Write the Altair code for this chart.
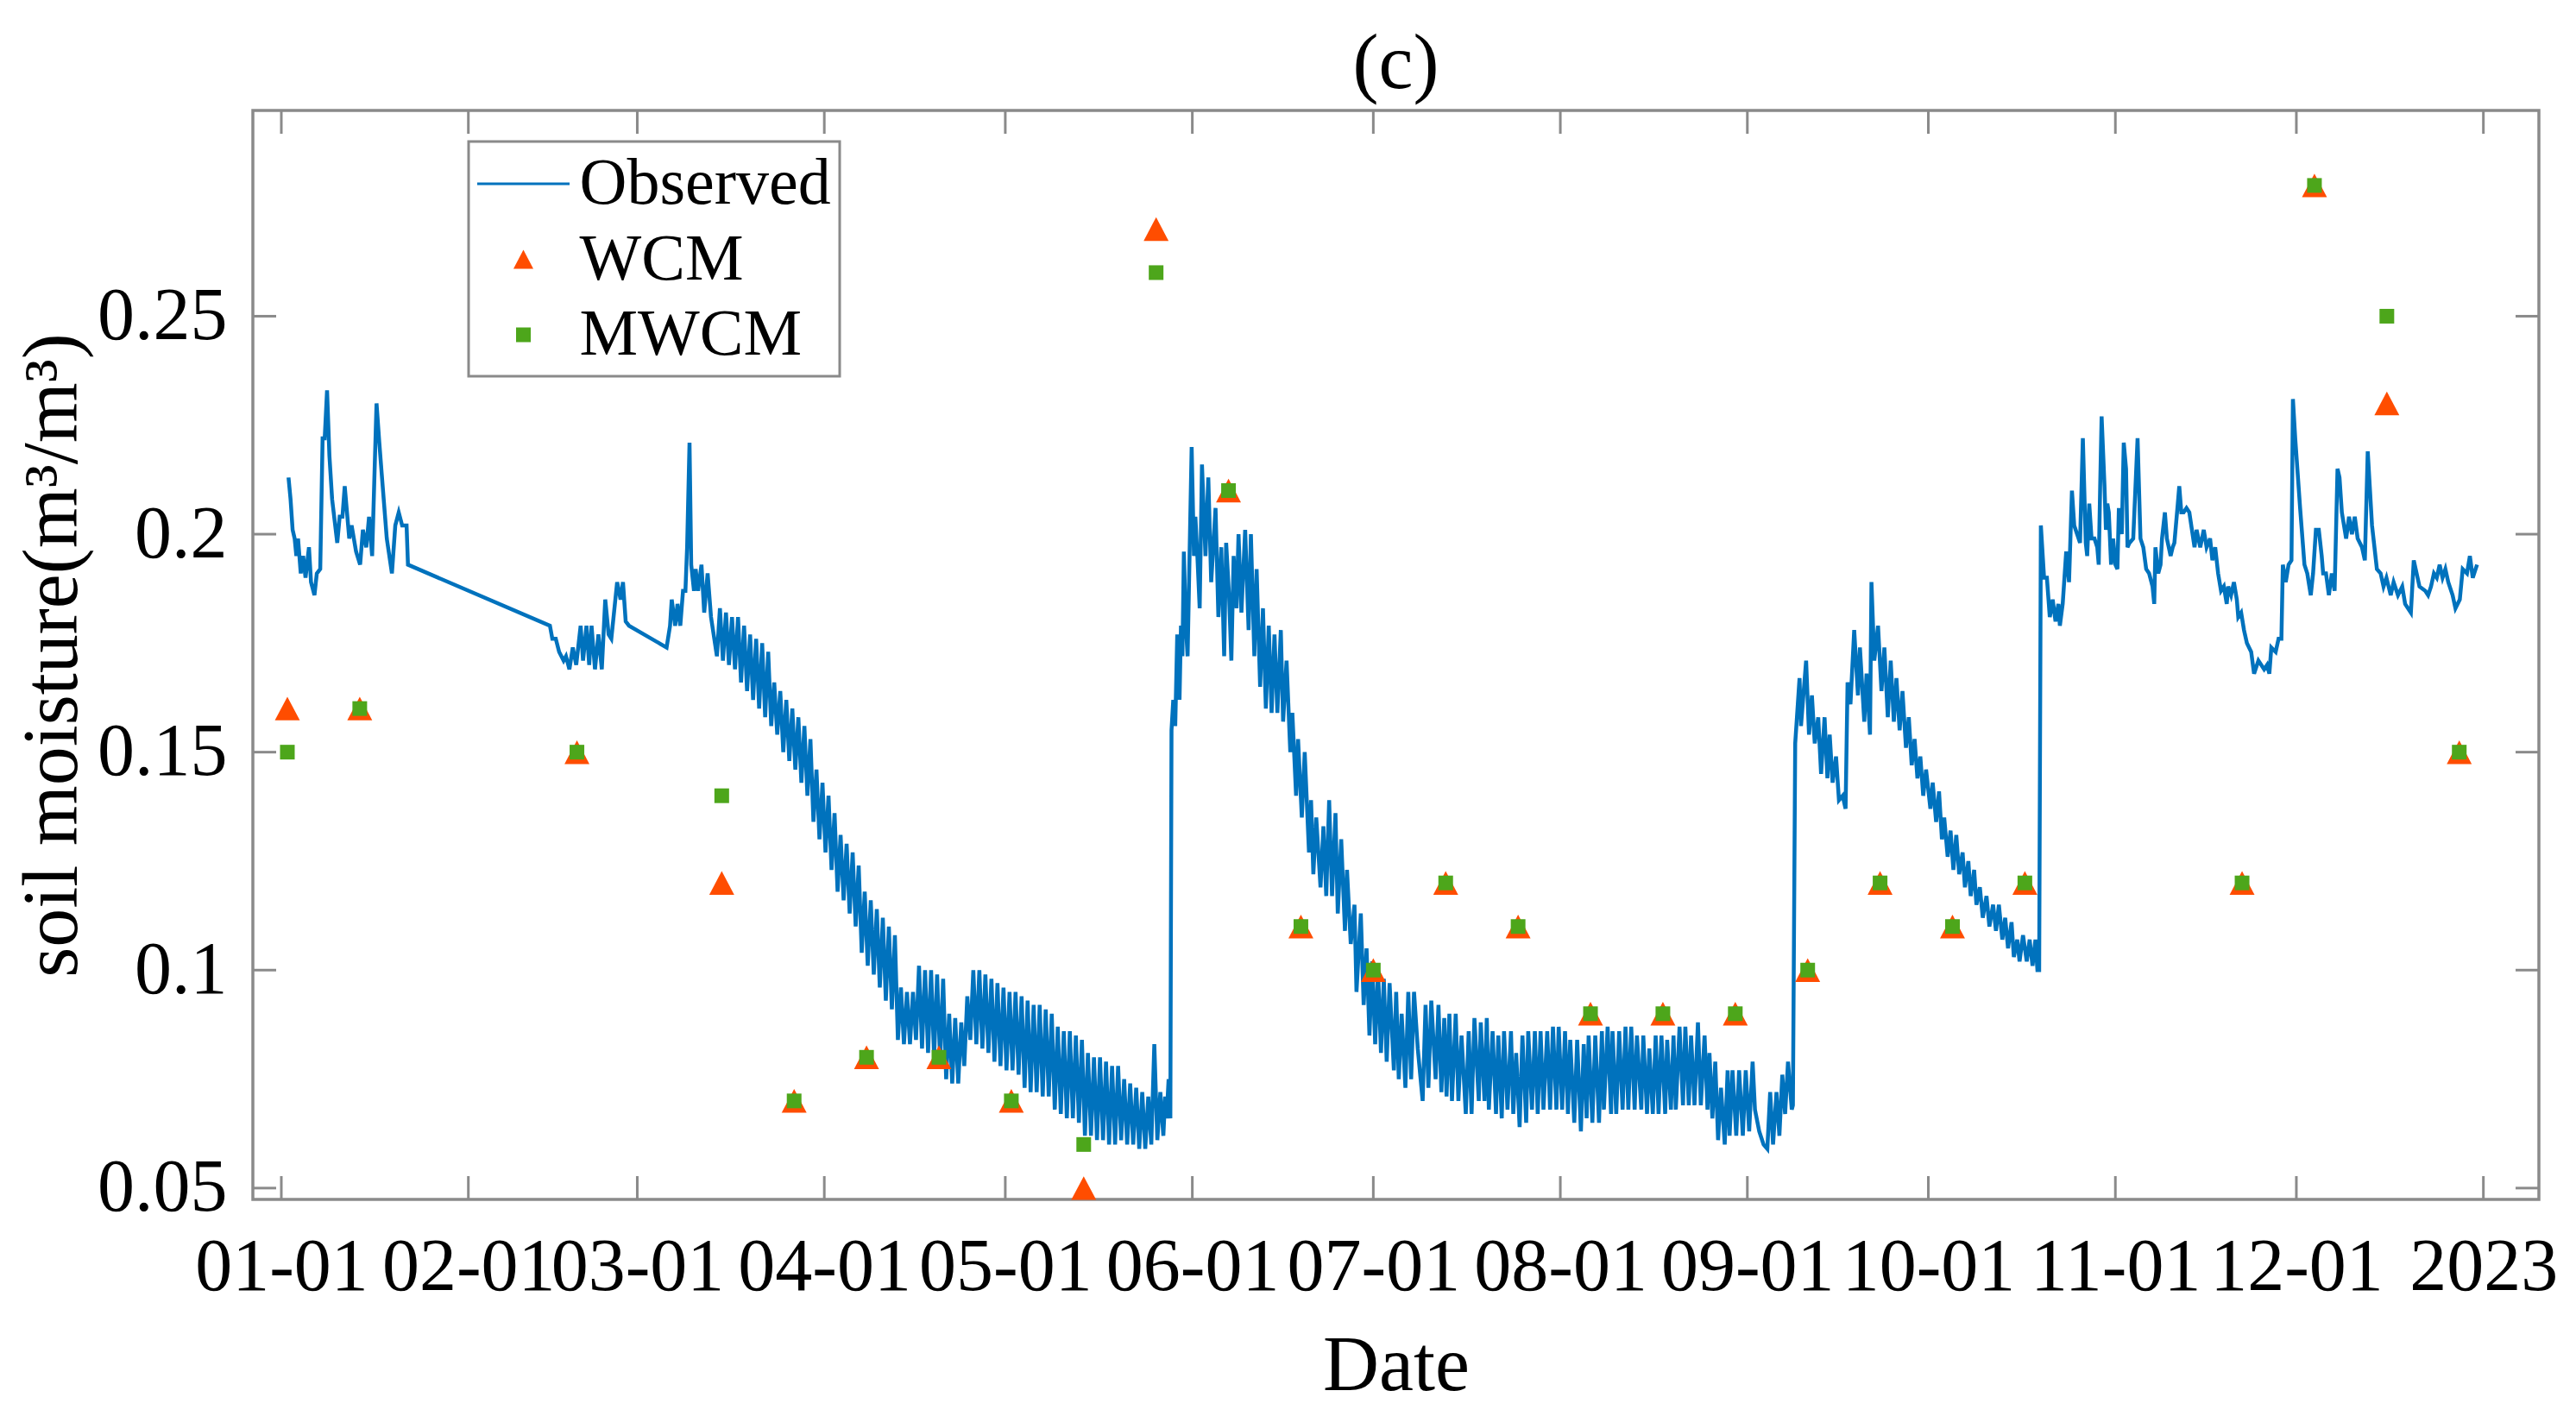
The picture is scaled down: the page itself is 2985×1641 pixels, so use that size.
import altair as alt
import pandas as pd

# ---- data (soil moisture, m3/m3) ----
# observed, irregular part: fractional day of 2022 and value
janmar_day = [1.19, 1.53, 1.87, 2.21, 2.49, 2.77, 3.22, 3.62, 4.01, 4.58, 4.92, 5.49, 5.88,
              6.45, 6.84, 7.19, 7.58, 7.97, 8.42, 9.27, 9.67, 10.13, 10.51, 11.26, 11.65,
              12.39, 13.06, 13.52, 14.08, 14.54, 15.05, 15.78, 16.24, 16.63, 17.48, 18.33,
              18.89, 19.46, 20.03, 20.42, 20.76, 20.99,
              44.52, 44.92, 45.49, 46.05, 46.79, 47.18, 47.75, 48.31, 48.88, 49.61, 50.01,
              50.58, 51.03, 51.42, 51.99, 52.56, 53.12, 53.69, 54.25, 54.70, 55.66, 56.23,
              56.63, 57.08, 57.64,
              63.86, 64.43, 64.71, 65.28, 65.67, 66.13, 66.58, 66.98, 67.26, 67.66, 67.94,
              68.40, 68.68, 69.08, 69.64, 70.09, 70.66, 71.22]
janmar_sm = [.213, .208, .201, .199, .195, .199, .191, .195, .190, .197, .189, .186, .191,
             .192, .222, .222, .233, .218, .208, .198, .204, .204, .211, .199, .202,
             .196, .193, .201, .197, .204, .195, .230, .221, .214, .199, .191,
             .202, .205, .202, .202, .202, .193,
             .179, .176, .176, .173, .171, .172, .169, .174, .170, .179, .171,
             .179, .170, .179, .169, .177, .169, .185, .177, .176, .189, .185,
             .189, .180, .179,
             .174, .179, .185, .179, .184, .179, .187, .187, .197, .221, .193,
             .187, .192, .187, .193, .182, .191, .181]

# observed, diurnal stretch from day 72 to day 145: daily maxima and minima
spring_first_day = 72
spring_hi = [.183, .182, .181, .181, .179, .177, .176, .175, .173, .166, .164, .162, .160,
             .158, .156, .153, .146, .143, .140, .136, .131, .129, .127, .124, .118, .116,
             .114, .112, .110, .108, .096, .095, .095, .101, .100, .100, .099, .098, .090,
             .089, .088, .094, .100, .100, .099, .098, .097, .096, .095, .095, .094, .093,
             .092, .092, .091, .090, .087, .086, .086, .085, .084, .081, .080, .080, .079,
             .078, .078, .075, .074, .073, .072, .071, .083, .072]
spring_lo = [.172, .171, .170, .169, .166, .164, .162, .160, .158, .156, .154, .150, .148,
             .146, .143, .140, .134, .130, .127, .123, .118, .116, .113, .110, .104, .101,
             .099, .096, .093, .091, .084, .083, .083, .084, .082, .081, .080, .079, .075,
             .074, .074, .078, .084, .083, .082, .081, .079, .078, .077, .077, .076, .073,
             .072, .072, .071, .071, .068, .067, .066, .066, .065, .062, .062, .061, .061,
             .060, .060, .061, .060, .060, .059, .059, .060, .061]

# observed, late May to year end
summer_day = [146.20, 146.50, 146.74, 147.07, 147.36, 147.55, 147.84, 148.17, 148.50, 148.88,
              149.12, 149.36, 149.60, 149.93, 150.22, 150.89, 151.27, 151.51, 151.84, 152.22,
              152.60, 153.18, 153.65, 154.13, 154.85, 155.32, 155.80, 156.28, 156.61, 157.09,
              157.47, 157.85, 158.33, 158.66, 159.14, 159.76, 160.33, 160.71, 161.28, 161.66,
              162.24, 162.71, 163.19, 163.67, 164.14, 164.62, 165.10, 165.67, 166.05, 166.62,
              167.24, 167.58, 168.20, 168.53, 169.15, 169.63, 170.34, 170.68, 171.06, 171.54,
              172.25, 172.73, 173.20, 173.68, 174.16, 174.73, 175.11, 175.68, 176.30, 176.64,
              177.26, 177.88, 178.21, 178.93, 179.40, 179.88, 180.36, 180.83, 181.31, 181.79,
              182.27, 182.74, 183.22, 183.70, 184.41, 184.79, 185.22, 185.70, 186.32, 186.80,
              187.27, 187.75, 188.37, 189.18, 189.66, 190.13, 190.61, 191.33, 191.80, 192.28,
              192.76, 193.14, 193.61, 194.04, 194.66, 195.10, 195.62, 196.33, 196.81, 197.29,
              197.76, 198.48, 198.81, 199.43]
summer_sm = [.062, .071, .066, .075, .066, .155, .162, .156, .177, .162,
             .179, .172, .196, .179, .172, .220, .195, .204, .195, .183,
             .216, .195, .213, .189, .206, .181, .197, .172, .198, .186,
             .171, .195, .183, .200, .182, .201, .178, .200, .172, .192,
             .165, .183, .160, .179, .159, .177, .159, .178, .157, .171,
             .150, .159, .140, .153, .135, .150, .127, .139, .122, .135,
             .119, .133, .117, .139, .117, .136, .113, .130, .109, .123,
             .106, .115, .095, .113, .092, .105, .085, .102, .083, .100,
             .081, .098, .079, .097, .077, .095, .075, .090, .073, .095,
             .075, .095, .082, .070, .092, .073, .093, .075, .092, .072,
             .089, .071, .090, .070, .090, .070, .085, .067, .086, .067,
             .089, .070, .088, .070]

late_day = [199.81, 200.15, 200.77, 201.34, 201.72, 202.29, 202.67, 203.24, 203.82, 204.20,
            204.68, 205.25, 205.72, 206.34, 206.68, 207.30, 207.78, 208.25, 208.73, 209.20,
            209.83, 210.30, 210.78, 211.35, 211.73, 212.30, 212.78, 213.26, 213.64, 214.31,
            214.79, 215.41, 215.88, 216.36, 216.69, 217.31, 217.79, 218.41, 218.89, 219.22,
            219.84, 220.41, 220.65, 221.27, 221.75, 222.32, 222.80, 223.27, 223.75, 224.32,
            224.70, 225.42, 225.75, 226.37, 226.75, 227.33, 227.80, 228.28, 228.76, 229.38,
            229.71, 230.33, 230.76, 231.14, 231.76, 232.33, 232.72, 233.29, 233.67, 234.24,
            234.81, 235.29, 235.91, 236.39, 236.72, 237.20, 237.68, 238.15, 238.63, 239.25,
            239.73, 240.06, 240.54, 241.16, 241.63, 242.25, 242.73, 243.30, 243.87, 244.26,
            244.97, 245.69, 246.31, 246.78, 247.26, 247.83, 248.31, 248.79, 249.26, 249.74,
            250.36, 250.55, 250.93, 251.65, 251.89, 252.74, 253.22, 253.70, 254.17, 254.75,
            255.22, 255.80, 256.27, 256.65, 257.13, 257.70, 258.18, 258.80, 259.28, 259.61,
            260.09, 260.71, 261.33, 261.66, 262.38, 262.76, 263.33, 263.57,
            264.04, 264.66, 265.23, 265.71, 266.28, 266.76, 267.28, 267.71, 268.24, 268.71,
            269.29, 269.76, 270.24, 270.72, 271.19, 271.67, 272.15, 272.62, 273.34, 273.72,
            274.29, 274.77, 275.25, 275.63, 276.20, 276.68, 277.15, 277.63, 278.11, 278.68,
            279.06, 279.63, 280.02, 280.59, 280.97, 281.54, 282.02, 282.64, 283.12, 283.73,
            284.21, 284.69, 285.26, 285.74, 286.21, 286.79, 287.17, 287.74, 288.12, 288.69,
            289.31, 289.79, 290.27, 290.75, 291.08, 291.37, 291.65, 292.18, 292.65, 293.13,
            293.61, 294.08, 294.56, 294.80, 295.27, 295.85, 296.32, 296.80, 297.18, 297.66,
            298.14, 298.61]
late_sm = [.089, .068, .086, .067, .085, .066, .086, .068, .086, .067,
           .081, .064, .085, .065, .086, .068, .086, .067, .086, .068,
           .086, .068, .087, .068, .087, .068, .086, .067, .084, .065,
           .084, .063, .083, .066, .085, .065, .085, .065, .086, .068,
           .087, .067, .086, .067, .086, .068, .087, .068, .087, .068,
           .085, .068, .085, .067, .082, .067, .085, .067, .085, .067,
           .084, .068, .085, .068, .087, .069, .087, .069, .085, .069,
           .088, .069, .085, .068, .081, .066, .079, .061, .073, .060,
           .077, .062, .077, .062, .077, .062, .077, .063, .079, .068,
           .063, .060, .059, .072, .060, .072, .062, .076, .067, .079,
           .068, .069, .152, .167, .156, .171, .154, .163, .152, .158,
           .145, .158, .144, .154, .143, .149, .139, .140, .137, .166,
           .161, .178, .163, .174, .157, .168, .154, .189,
           .171, .179, .164, .174, .158, .171, .157, .167, .155, .164,
           .151, .158, .147, .153, .144, .149, .140, .146, .137, .143,
           .134, .141, .130, .135, .126, .132, .123, .131, .122, .127,
           .119, .125, .117, .123, .115, .119, .112, .117, .110, .115,
           .109, .115, .107, .112, .105, .111, .103, .107, .102, .108,
           .102, .107, .101, .107, .100, .100, .202, .190, .190, .181,
           .185, .180, .184, .179, .184, .196, .189, .210, .202, .200,
           .198, .222]

winter_day = [299.09, 299.33, 299.67, 300.05, 300.53, 301.00, 301.24, 301.48, 301.72, 302.20,
              302.43, 302.67, 302.91, 303.29, 303.63, 304.01, 304.34, 304.58, 305.06, 305.39,
              305.77, 306.01, 306.34, 306.96, 307.68, 308.16, 308.63, 309.11, 309.59, 310.16,
              310.44, 310.64, 311.11, 311.49, 311.73, 312.21, 312.54, 313.16, 313.50, 313.78,
              314.35, 314.59, 314.93, 315.31, 315.79, 316.26, 317.12, 317.46, 318.07, 318.65,
              319.12, 319.70, 320.08, 320.55, 321.03, 321.51, 321.98, 322.46, 322.70, 323.18,
              323.65, 324.13, 324.37, 324.85, 325.32, 325.80, 326.51, 326.99, 327.71, 328.66,
              329.14, 329.52, 329.85, 330.57, 331.05, 331.52, 331.76, 332.24, 332.71, 333.19,
              333.43, 333.81, 334.62, 335.34, 335.81, 336.39, 336.77, 337.24, 337.72, 338.20,
              338.44, 338.91, 339.39, 339.87, 340.34, 340.82, 341.15, 341.54, 342.25, 342.73,
              343.21, 343.68, 344.16, 344.88, 345.35, 345.83, 346.54, 347.35, 347.97, 348.45,
              348.93, 349.64, 350.12, 350.84, 351.55, 352.03, 352.98, 353.46, 354.41, 355.37,
              355.84, 356.32, 356.80, 357.27, 357.75, 358.23, 358.70, 359.18, 359.90, 360.37,
              361.09, 361.57, 362.28, 362.76, 363.24, 363.95]
winter_sm = [.198, .195, .207, .199, .199, .197, .193, .211, .227, .211,
             .201, .207, .205, .193, .199, .193, .192, .206, .200, .221,
             .215, .197, .198, .199, .222, .199, .197, .192, .191, .188,
             .184, .197, .191, .193, .199, .205, .199, .195, .197, .198,
             .207, .211, .205, .205, .206, .205, .197, .201, .197, .201,
             .197, .199, .194, .197, .191, .187, .188, .184, .188, .186,
             .189, .185, .181, .182, .178, .175, .173, .168, .171, .169,
             .170, .168, .174, .173, .176, .176, .193, .189, .193, .194,
             .231, .222, .206, .193, .191, .186, .191, .201, .201, .195,
             .191, .191, .186, .191, .187, .215, .213, .205, .199, .204,
             .200, .204, .199, .197, .194, .219, .202, .192, .191, .188,
             .190, .186, .189, .186, .188, .184, .182, .194, .188, .187,
             .186, .188, .191, .190, .193, .190, .192, .189, .186, .183,
             .185, .192, .191, .195, .190, .193]

# model estimates on the Sentinel-1 dates
est_dates = ["2022-01-02", "2022-01-14", "2022-02-19", "2022-03-15", "2022-03-27",
             "2022-04-08", "2022-04-20", "2022-05-02", "2022-05-14", "2022-05-26",
             "2022-06-07", "2022-06-19", "2022-07-01", "2022-07-13", "2022-07-25",
             "2022-08-06", "2022-08-18", "2022-08-30", "2022-09-11", "2022-09-23",
             "2022-10-05", "2022-10-17", "2022-11-22", "2022-12-04", "2022-12-16",
             "2022-12-28"]
wcm = [0.16, 0.16, 0.15, 0.12, 0.07, 0.08, 0.08, 0.07, 0.05, 0.27, 0.21, 0.11, 0.10,
       0.12, 0.11, 0.09, 0.09, 0.09, 0.10, 0.12, 0.11, 0.12, 0.12, 0.28, 0.23, 0.15]
mwcm = [0.15, 0.16, 0.15, 0.14, 0.07, 0.08, 0.08, 0.07, 0.06, 0.26, 0.21, 0.11, 0.10,
        0.12, 0.11, 0.09, 0.09, 0.09, 0.10, 0.12, 0.11, 0.12, 0.12, 0.28, 0.25, 0.15]

series = ["Observed", "WCM", "MWCM"]
y_ticks = [0.05, 0.1, 0.15, 0.2, 0.25]

# ---- tables ----
spring_day, spring_sm = [], []
for i, (hi, lo) in enumerate(zip(spring_hi, spring_lo)):
    spring_day += [spring_first_day + i + 0.2, spring_first_day + i + 0.7]
    spring_sm += [lo, hi]

obs_day = janmar_day + spring_day + summer_day + late_day + winter_day
obs_sm = janmar_sm + spring_sm + summer_sm + late_sm + winter_sm
start = pd.Timestamp("2022-01-01")
obs = pd.DataFrame({"date": start + pd.to_timedelta(obs_day, unit="D"), "sm": obs_sm})

est = pd.DataFrame({
    "date": pd.to_datetime(est_dates * 2),
    "sm": wcm + mwcm,
    "series": ["WCM"] * len(wcm) + ["MWCM"] * len(mwcm),
})

month_starts = pd.date_range("2022-01-01", "2023-01-01", freq="MS")
xticks = pd.DataFrame({"date": month_starts})
yticks = pd.DataFrame({"sm": y_ticks})

# ---- styling ----
W, H = 2649, 1262
TICK = 27
GREY = "#8a8a8a"
FONT = "Liberation Serif"
BLUE = "#0072BD"

x_scale = alt.Scale(domain=[alt.DateTime(year=2021, month=12, date=27, hours=6, minutes=43),
                            alt.DateTime(year=2023, month=1, date=10, hours=4, minutes=48)])
y_scale = alt.Scale(domain=[0.0474, 0.2972], nice=False, zero=False)

x_axis = alt.Axis(
    values=[alt.DateTime(year=d.year, month=d.month, date=1) for d in month_starts],
    labelExpr="year(datum.value) == 2023 ? '2023' : timeFormat(datum.value, '%m-%d')",
    labelOverlap=False, labelFlush=False, labelPadding=36, labelLimit=400,
    ticks=False, domain=False, grid=False,
    title="Date", titleY=220, titleBaseline="alphabetic",
)
y_axis = alt.Axis(
    values=y_ticks, format=".2~f", labelPadding=30,
    ticks=False, domain=False, grid=False,
    title="soil moisture(m³/m³)", titleX=-205, titleY=H / 2,
    titleAngle=270, titleBaseline="alphabetic",
)
X = alt.X("date:T", scale=x_scale, axis=x_axis)
Y = alt.Y("sm:Q", scale=y_scale, axis=y_axis)

# legend symbols: unit square scaled by sqrt(size)/2
line_path = "M-1.372,-0.041H1.372V0.041H-1.372Z"
tri_path = "M0,-0.28L0.295,0.28L-0.295,0.28Z"
sq_path = "M-0.218,-0.218H0.218V0.218H-0.218Z"

legend = alt.Legend(title=None, orient="none", legendX=250, legendY=36)
color_scale = alt.Scale(domain=series, range=[BLUE, "#FF4D00", "#4DA61B"])
shape_scale = alt.Scale(domain=series, range=[line_path, tri_path, sq_path])

# ---- layers ----
line = alt.Chart(obs).mark_line(color=BLUE, strokeWidth=4.5).encode(x=X, y=Y)

est_base = alt.Chart(est).mark_point(filled=True, opacity=1, strokeWidth=0).encode(
    x=X, y=Y,
    color=alt.Color("series:N", scale=color_scale, legend=legend),
    shape=alt.Shape("series:N", scale=shape_scale, legend=legend),
)
wcm_pts = est_base.transform_filter(alt.datum.series == "WCM").encode(size=alt.value(9604))
mwcm_pts = est_base.transform_filter(alt.datum.series == "MWCM").encode(size=alt.value(6084))

# inward ticks on all four sides of the box
ytick_base = alt.Chart(yticks).mark_rule(color=GREY, strokeWidth=3)
left_ticks = ytick_base.encode(y=Y, x=alt.value(0), x2=alt.value(TICK))
right_ticks = ytick_base.encode(y=Y, x=alt.value(W - TICK), x2=alt.value(W))
xtick_base = alt.Chart(xticks).mark_rule(color=GREY, strokeWidth=3)
bottom_ticks = xtick_base.encode(x=X, y=alt.value(H - TICK), y2=alt.value(H))
top_ticks = xtick_base.encode(x=X, y=alt.value(0), y2=alt.value(TICK))

# panel label "(c)" centred above the box
panel_label = alt.Chart(pd.DataFrame({"t": ["(c)"]})).mark_text(
    font=FONT, fontSize=90, color="black", align="center", baseline="alphabetic"
).encode(text="t:N", x=alt.value(W / 2), y=alt.value(-26))

chart = (
    alt.layer(line, left_ticks, right_ticks, bottom_ticks, top_ticks, wcm_pts, mwcm_pts,
              panel_label)
    .properties(
        width=W, height=H,
        padding={"left": 285, "top": 120, "right": 30, "bottom": 240},
        autosize=alt.AutoSizeParams(type="none"),
    )
    .configure_view(stroke=GREY, strokeWidth=3.5)
    .configure_axis(labelFont=FONT, labelFontSize=86, labelColor="black",
                    titleFont=FONT, titleFontSize=90, titleFontWeight="normal",
                    titleColor="black")
    .configure_legend(labelFont=FONT, labelFontSize=76, labelColor="black", labelLimit=600,
                      labelOffset=26, symbolOffset=14.5, symbolSize=6084,
                      symbolStrokeWidth=0, symbolOpacity=1, padding=10, rowPadding=10.5,
                      strokeColor=GREY, strokeWidth=3, fillColor="white")
)

chart.save("out.html", embed_options={"renderer": "svg", "actions": False})
